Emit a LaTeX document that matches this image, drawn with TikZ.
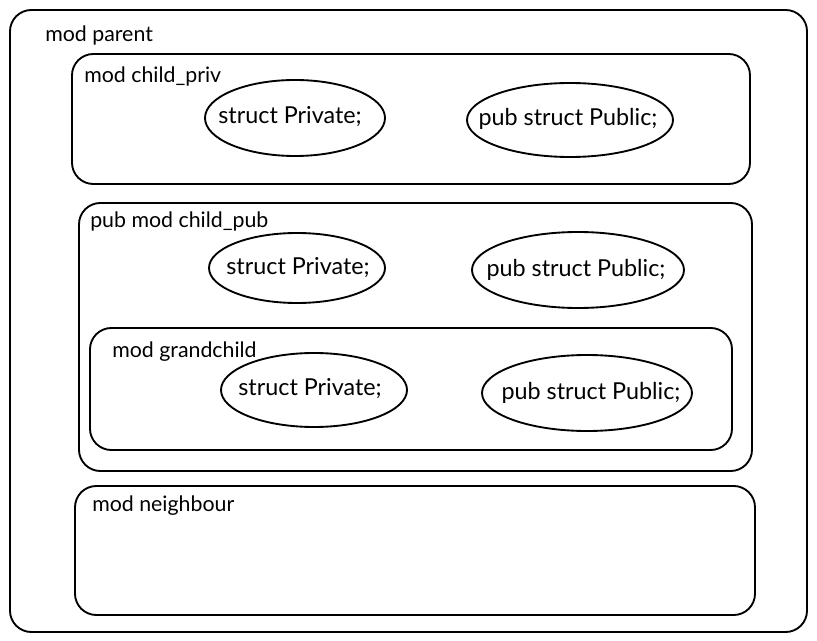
\documentclass[tikz,border=0pt]{standalone}
\usepackage{fontspec}
\setmainfont{Lato}

\begin{document}
\begin{tikzpicture}[x=0.75pt, y=-0.75pt,
    modbox/.style={draw, line width=1.4pt, rounded corners=16pt},
    item/.style={inner sep=0pt, font=\fontsize{17.5}{19}\selectfont},
    ring/.style={draw, line width=1.4pt},
    modlabel/.style={anchor=west, inner sep=0pt, font=\fontsize{16}{18}\selectfont}]
    \useasboundingbox (0,0) rectangle (817,641);

    % Parent module
    \draw[modbox] (10,10) rectangle (807,632);
    \node[modlabel] (parent) at (45,35) {mod parent};

    % child_priv
    \draw[modbox] (72,54) rectangle (750,184);
    \node[modlabel] (childpriv) at (84,76) {mod child\_priv};
    \node[item] (privA) at (290,117) {struct Private;};
    \draw[ring] (295,118) ellipse [x radius=90, y radius=38];
    \node[item] (pubA) at (568,119) {pub struct Public;};
    \draw[ring] (570,120) ellipse [x radius=103, y radius=37];

    % child_pub
    \draw[modbox] (79,203) rectangle (752,471);
    \node[modlabel] (childpub) at (90,221) {pub mod child\_pub};
    \node[item] (privB) at (298,268) {struct Private;};
    \draw[ring] (297,268) ellipse [x radius=88, y radius=35];
    \node[item] (pubB) at (576,270) {pub struct Public;};
    \draw[ring] (578,270) ellipse [x radius=106, y radius=38];

    % grandchild
    \draw[modbox] (90,328) rectangle (732,450);
    \node[modlabel] (grandchild) at (112,352) {mod grandchild};
    \node[item] (privC) at (310,389) {struct Private;};
    \draw[ring] (314,390) ellipse [x radius=93, y radius=37];
    \node[item] (pubC) at (591,393) {pub struct Public;};
    \draw[ring] (587,393) ellipse [x radius=105, y radius=38];

    % neighbour
    \draw[modbox] (75,486) rectangle (755,615);
    \node[modlabel] (neighbour) at (92,506) {mod neighbour};
\end{tikzpicture}
\end{document}
